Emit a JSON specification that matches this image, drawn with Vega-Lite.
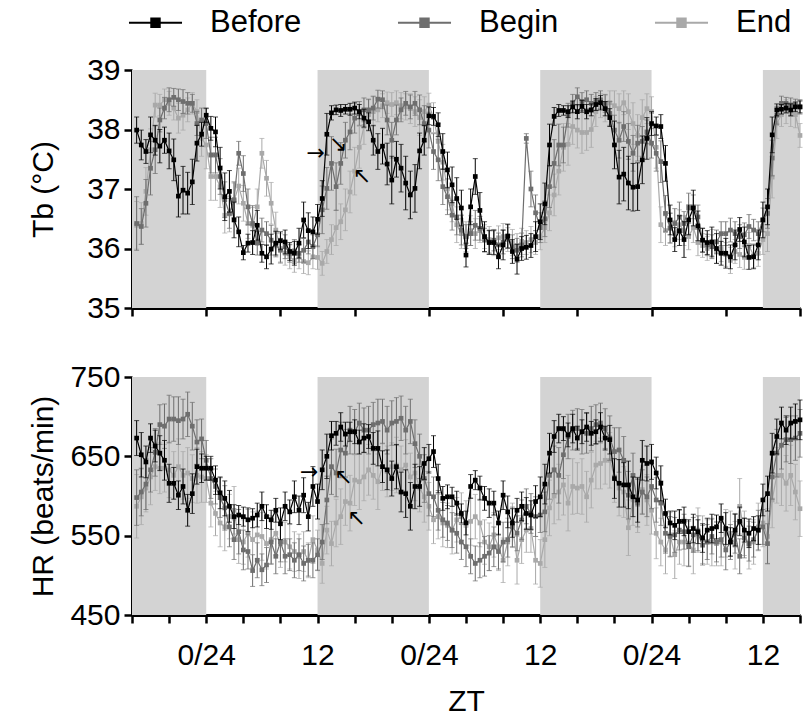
{
"$schema":"https://vega.github.io/schema/vega-lite/v6.json",
"padding":{"left":27,"top":7,"right":5,"bottom":5},
"background":"white",
"config":{"view":{"stroke":null},"font":"Liberation Sans",
"axis":{"domainColor":"#000","domainWidth":3,"tickColor":"#000","tickWidth":2.5,"tickSize":8,"labelFontSize":30,"labelColor":"#000","titleFontSize":30,"titleFontWeight":"normal","titleColor":"#000","grid":false,"labelPadding":4,"labelOverlap":false}},
"datasets":{
"sh":[{"a":16,"b":24},{"a":36,"b":48},{"a":60,"b":72},{"a":84,"b":88}],
"a1":[{"t":35.8,"v":37.6,"s":"→"},{"t":38.2,"v":37.76,"s":"↘"},{"t":40.8,"v":37.22,"s":"↖"}],
"a2":[{"t":35.1,"v":630,"s":"→"},{"t":38.8,"v":624,"s":"↖"},{"t":40.2,"v":572,"s":"↖"}],
"d":[
{"t":16.5,"a":37.99,"b":36.42,"c":36.39,"p":0.22,"q":0.45,"r":0.4,"h":673,"i":598,"j":587,"u":22,"v":35,"w":40},
{"t":17,"a":37.74,"b":36.37,"c":36.42,"p":0.25,"q":0.3,"r":0.35,"h":652,"i":605,"j":599,"u":28,"v":30,"w":35},
{"t":17.5,"a":37.63,"b":36.76,"c":36.96,"p":0.2,"q":0.4,"r":0.4,"h":643,"i":615,"j":610,"u":20,"v":32,"w":30},
{"t":18,"a":37.91,"b":37.35,"c":37.66,"p":0.3,"q":0.45,"r":0.35,"h":673,"i":633,"j":624,"u":18,"v":28,"w":35},
{"t":18.5,"a":37.82,"b":37.66,"c":38.41,"p":0.25,"q":0.4,"r":0.2,"h":663,"i":655,"j":637,"u":20,"v":30,"w":30},
{"t":19,"a":37.72,"b":38.16,"c":38.41,"p":0.28,"q":0.2,"r":0.18,"h":654,"i":690,"j":635,"u":22,"v":25,"w":32},
{"t":19.5,"a":37.82,"b":38.36,"c":38.5,"p":0.22,"q":0.18,"r":0.18,"h":645,"i":688,"j":635,"u":25,"v":28,"w":30},
{"t":20,"a":37.64,"b":38.5,"c":38.44,"p":0.3,"q":0.2,"r":0.2,"h":616,"i":697,"j":633,"u":24,"v":30,"w":35},
{"t":20.5,"a":37.49,"b":38.54,"c":38.36,"p":0.35,"q":0.15,"r":0.2,"h":616,"i":697,"j":626,"u":20,"v":28,"w":30},
{"t":21,"a":36.88,"b":38.5,"c":38.19,"p":0.35,"q":0.18,"r":0.25,"h":601,"i":695,"j":637,"u":18,"v":30,"w":35},
{"t":21.5,"a":36.98,"b":38.47,"c":38.24,"p":0.4,"q":0.2,"r":0.25,"h":612,"i":697,"j":626,"u":22,"v":25,"w":30},
{"t":22,"a":36.93,"b":38.44,"c":38.33,"p":0.35,"q":0.18,"r":0.2,"h":582,"i":703,"j":629,"u":20,"v":28,"w":32},
{"t":22.5,"a":37.12,"b":38.44,"c":38.44,"p":0.38,"q":0.15,"r":0.18,"h":603,"i":688,"j":622,"u":25,"v":30,"w":30},
{"t":23,"a":37.77,"b":38.1,"c":38.3,"p":0.3,"q":0.2,"r":0.2,"h":637,"i":668,"j":626,"u":22,"v":28,"w":35},
{"t":23.5,"a":37.92,"b":38.16,"c":37.85,"p":0.2,"q":0.2,"r":0.3,"h":635,"i":672,"j":624,"u":18,"v":25,"w":32},
{"t":24,"a":38.24,"b":38.1,"c":37.74,"p":0.12,"q":0.25,"r":0.4,"h":635,"i":645,"j":622,"u":15,"v":25,"w":30},
{"t":24.5,"a":38.02,"b":37.57,"c":37.21,"p":0.2,"q":0.3,"r":0.4,"h":635,"i":622,"j":591,"u":15,"v":25,"w":30},
{"t":25,"a":37.96,"b":37.57,"c":37.21,"p":0.25,"q":0.3,"r":0.4,"h":620,"i":612,"j":578,"u":18,"v":22,"w":28},
{"t":25.5,"a":37.35,"b":37.21,"c":37.04,"p":0.35,"q":0.3,"r":0.35,"h":604,"i":598,"j":566,"u":20,"v":25,"w":30},
{"t":26,"a":36.87,"b":36.82,"c":36.56,"p":0.4,"q":0.3,"r":0.3,"h":597,"i":585,"j":561,"u":22,"v":28,"w":30},
{"t":26.5,"a":36.96,"b":36.59,"c":36.58,"p":0.35,"q":0.25,"r":0.3,"h":587,"i":561,"j":574,"u":20,"v":25,"w":28},
{"t":27,"a":36.48,"b":36.82,"c":36.8,"p":0.3,"q":0.3,"r":0.3,"h":574,"i":545,"j":582,"u":15,"v":25,"w":30},
{"t":27.5,"a":36.28,"b":37.6,"c":37.05,"p":0.25,"q":0.2,"r":0.3,"h":576,"i":555,"j":545,"u":12,"v":28,"w":30},
{"t":28,"a":35.93,"b":37.26,"c":36.76,"p":0.12,"q":0.3,"r":0.3,"h":574,"i":532,"j":542,"u":12,"v":25,"w":28},
{"t":28.5,"a":36.09,"b":36.7,"c":36.42,"p":0.15,"q":0.3,"r":0.25,"h":570,"i":530,"j":553,"u":15,"v":22,"w":30},
{"t":29,"a":36.1,"b":36.42,"c":36.39,"p":0.2,"q":0.3,"r":0.3,"h":572,"i":506,"j":545,"u":12,"v":20,"w":35},
{"t":29.5,"a":36.39,"b":36.09,"c":36.7,"p":0.25,"q":0.2,"r":0.3,"h":576,"i":519,"j":551,"u":15,"v":22,"w":30},
{"t":30,"a":35.92,"b":36.31,"c":37.6,"p":0.15,"q":0.2,"r":0.25,"h":587,"i":507,"j":549,"u":18,"v":20,"w":30},
{"t":30.5,"a":35.86,"b":36.25,"c":37.18,"p":0.2,"q":0.2,"r":0.3,"h":574,"i":513,"j":540,"u":15,"v":22,"w":32},
{"t":31,"a":35.99,"b":36.14,"c":36.76,"p":0.25,"q":0.25,"r":0.35,"h":570,"i":542,"j":545,"u":12,"v":28,"w":30},
{"t":31.5,"a":36.09,"b":36.06,"c":36.31,"p":0.2,"q":0.2,"r":0.3,"h":582,"i":524,"j":553,"u":15,"v":22,"w":28},
{"t":32,"a":36.13,"b":35.97,"c":36,"p":0.15,"q":0.2,"r":0.25,"h":565,"i":542,"j":540,"u":20,"v":25,"w":30},
{"t":32.5,"a":36.11,"b":36.03,"c":35.92,"p":0.2,"q":0.2,"r":0.2,"h":587,"i":524,"j":542,"u":18,"v":22,"w":25},
{"t":33,"a":35.95,"b":35.92,"c":35.86,"p":0.15,"q":0.15,"r":0.2,"h":580,"i":526,"j":536,"u":15,"v":20,"w":28},
{"t":33.5,"a":35.92,"b":35.95,"c":35.8,"p":0.2,"q":0.2,"r":0.2,"h":599,"i":519,"j":530,"u":20,"v":22,"w":25},
{"t":34,"a":36.09,"b":35.92,"c":35.86,"p":0.25,"q":0.15,"r":0.2,"h":582,"i":526,"j":524,"u":18,"v":20,"w":28},
{"t":34.5,"a":36.48,"b":35.97,"c":35.78,"p":0.3,"q":0.2,"r":0.2,"h":601,"i":515,"j":530,"u":22,"v":22,"w":25},
{"t":35,"a":36.3,"b":36.11,"c":35.76,"p":0.3,"q":0.2,"r":0.2,"h":574,"i":519,"j":519,"u":18,"v":20,"w":22},
{"t":35.5,"a":36.28,"b":36.03,"c":35.86,"p":0.25,"q":0.2,"r":0.2,"h":612,"i":519,"j":545,"u":25,"v":22,"w":30},
{"t":36,"a":36.49,"b":36.23,"c":35.85,"p":0.25,"q":0.2,"r":0.2,"h":593,"i":526,"j":532,"u":22,"v":20,"w":25},
{"t":36.5,"a":36.84,"b":36.65,"c":35.75,"p":0.3,"q":0.4,"r":0.2,"h":633,"i":542,"j":515,"u":25,"v":22,"w":25},
{"t":37,"a":37.92,"b":37.01,"c":35.95,"p":0.35,"q":0.35,"r":0.2,"h":650,"i":595,"j":557,"u":28,"v":30,"w":30},
{"t":37.5,"a":38.28,"b":37.43,"c":36.15,"p":0.12,"q":0.45,"r":0.25,"h":676,"i":637,"j":540,"u":18,"v":35,"w":28},
{"t":38,"a":38.33,"b":37.04,"c":36.35,"p":0.08,"q":0.4,"r":0.3,"h":679,"i":629,"j":566,"u":15,"v":30,"w":30},
{"t":38.5,"a":38.32,"b":37.43,"c":36.45,"p":0.1,"q":0.35,"r":0.3,"h":687,"i":658,"j":574,"u":18,"v":35,"w":35},
{"t":39,"a":38.34,"b":37.82,"c":36.65,"p":0.08,"q":0.3,"r":0.35,"h":678,"i":654,"j":593,"u":15,"v":30,"w":30},
{"t":39.5,"a":38.34,"b":37.96,"c":36.95,"p":0.1,"q":0.3,"r":0.35,"h":681,"i":683,"j":591,"u":12,"v":30,"w":35},
{"t":40,"a":38.36,"b":38.19,"c":37.3,"p":0.1,"q":0.25,"r":0.4,"h":681,"i":681,"j":620,"u":15,"v":28,"w":32},
{"t":40.5,"a":38.3,"b":38.27,"c":37.7,"p":0.12,"q":0.2,"r":0.35,"h":668,"i":692,"j":618,"u":15,"v":25,"w":35},
{"t":41,"a":38.19,"b":38.33,"c":38.05,"p":0.15,"q":0.2,"r":0.3,"h":673,"i":683,"j":624,"u":18,"v":28,"w":30},
{"t":41.5,"a":38.13,"b":38.33,"c":38.25,"p":0.15,"q":0.18,"r":0.25,"h":675,"i":683,"j":633,"u":15,"v":30,"w":32},
{"t":42,"a":37.82,"b":38.36,"c":38.3,"p":0.25,"q":0.2,"r":0.25,"h":660,"i":690,"j":626,"u":20,"v":28,"w":30},
{"t":42.5,"a":37.63,"b":38.51,"c":38.33,"p":0.3,"q":0.15,"r":0.2,"h":660,"i":692,"j":618,"u":22,"v":30,"w":35},
{"t":43,"a":37.72,"b":38.5,"c":38.4,"p":0.3,"q":0.15,"r":0.2,"h":637,"i":694,"j":637,"u":20,"v":28,"w":30},
{"t":43.5,"a":37.42,"b":38.16,"c":38.45,"p":0.35,"q":0.25,"r":0.18,"h":633,"i":683,"j":631,"u":25,"v":30,"w":32},
{"t":44,"a":37.15,"b":37.82,"c":38.42,"p":0.4,"q":0.3,"r":0.2,"h":622,"i":692,"j":637,"u":22,"v":28,"w":30},
{"t":44.5,"a":37.5,"b":38.16,"c":38.45,"p":0.3,"q":0.25,"r":0.2,"h":637,"i":694,"j":639,"u":28,"v":30,"w":35},
{"t":45,"a":37.35,"b":38.33,"c":38.4,"p":0.4,"q":0.2,"r":0.22,"h":605,"i":698,"j":633,"u":25,"v":28,"w":30},
{"t":45.5,"a":37.1,"b":38.44,"c":38.38,"p":0.45,"q":0.2,"r":0.22,"h":603,"i":683,"j":639,"u":30,"v":30,"w":32},
{"t":46,"a":36.9,"b":38.38,"c":38.35,"p":0.4,"q":0.2,"r":0.25,"h":587,"i":694,"j":624,"u":30,"v":28,"w":30},
{"t":46.5,"a":37.01,"b":38.44,"c":38.3,"p":0.4,"q":0.2,"r":0.25,"h":612,"i":666,"j":629,"u":28,"v":30,"w":35},
{"t":47,"a":37.64,"b":38.33,"c":38.2,"p":0.3,"q":0.25,"r":0.3,"h":612,"i":650,"j":610,"u":25,"v":28,"w":30},
{"t":47.5,"a":37.82,"b":38.1,"c":38.3,"p":0.25,"q":0.3,"r":0.25,"h":641,"i":622,"j":599,"u":20,"v":30,"w":32},
{"t":48,"a":38.23,"b":37.99,"c":38.41,"p":0.15,"q":0.3,"r":0.2,"h":647,"i":603,"j":587,"u":18,"v":28,"w":30},
{"t":48.5,"a":38.22,"b":37.63,"c":38.2,"p":0.15,"q":0.3,"r":0.25,"h":656,"i":599,"j":570,"u":20,"v":25,"w":30},
{"t":49,"a":38.08,"b":37.49,"c":37.8,"p":0.2,"q":0.35,"r":0.3,"h":622,"i":582,"j":574,"u":18,"v":25,"w":28},
{"t":49.5,"a":37.63,"b":37.04,"c":37.45,"p":0.3,"q":0.3,"r":0.3,"h":597,"i":570,"j":566,"u":15,"v":22,"w":30},
{"t":50,"a":37.32,"b":36.87,"c":37,"p":0.3,"q":0.3,"r":0.35,"h":599,"i":566,"j":563,"u":15,"v":22,"w":28},
{"t":50.5,"a":37.07,"b":36.56,"c":36.75,"p":0.3,"q":0.25,"r":0.3,"h":599,"i":557,"j":557,"u":12,"v":22,"w":30},
{"t":51,"a":36.84,"b":36.53,"c":36.4,"p":0.35,"q":0.3,"r":0.3,"h":591,"i":553,"j":570,"u":15,"v":25,"w":28},
{"t":51.5,"a":36.68,"b":36.31,"c":36.25,"p":0.3,"q":0.25,"r":0.25,"h":578,"i":542,"j":574,"u":12,"v":22,"w":30},
{"t":52,"a":35.89,"b":36.2,"c":36.2,"p":0.2,"q":0.2,"r":0.25,"h":566,"i":536,"j":566,"u":15,"v":25,"w":28},
{"t":52.5,"a":36.7,"b":36.25,"c":36.3,"p":0.3,"q":0.2,"r":0.25,"h":612,"i":524,"j":568,"u":15,"v":22,"w":30},
{"t":53,"a":37.21,"b":36.39,"c":36.25,"p":0.3,"q":0.25,"r":0.25,"h":620,"i":515,"j":574,"u":12,"v":22,"w":28},
{"t":53.5,"a":36.64,"b":36.34,"c":36.3,"p":0.3,"q":0.2,"r":0.2,"h":610,"i":519,"j":566,"u":15,"v":22,"w":30},
{"t":54,"a":36.2,"b":36.14,"c":36.2,"p":0.25,"q":0.2,"r":0.2,"h":597,"i":524,"j":542,"u":15,"v":25,"w":28},
{"t":54.5,"a":36.1,"b":36.11,"c":36.15,"p":0.2,"q":0.2,"r":0.22,"h":591,"i":528,"j":536,"u":18,"v":22,"w":30},
{"t":55,"a":36.1,"b":36.14,"c":36.1,"p":0.2,"q":0.18,"r":0.22,"h":591,"i":536,"j":551,"u":15,"v":25,"w":28},
{"t":55.5,"a":35.86,"b":36.06,"c":36.18,"p":0.2,"q":0.2,"r":0.2,"h":566,"i":530,"j":536,"u":15,"v":22,"w":30},
{"t":56,"a":36.06,"b":36.11,"c":36.2,"p":0.25,"q":0.2,"r":0.22,"h":601,"i":542,"j":519,"u":18,"v":25,"w":28},
{"t":56.5,"a":36.21,"b":36.2,"c":36.15,"p":0.2,"q":0.2,"r":0.2,"h":580,"i":545,"j":542,"u":20,"v":22,"w":30},
{"t":57,"a":35.95,"b":36.03,"c":36.1,"p":0.2,"q":0.2,"r":0.22,"h":566,"i":561,"j":563,"u":18,"v":25,"w":28},
{"t":57.5,"a":35.82,"b":35.97,"c":36.05,"p":0.25,"q":0.2,"r":0.2,"h":582,"i":553,"j":519,"u":15,"v":22,"w":30},
{"t":58,"a":36,"b":36.06,"c":36.12,"p":0.2,"q":0.2,"r":0.22,"h":587,"i":570,"j":545,"u":18,"v":25,"w":30},
{"t":58.5,"a":36.02,"b":37.85,"c":36.1,"p":0.2,"q":0.08,"r":0.2,"h":578,"i":587,"j":557,"u":20,"v":22,"w":28},
{"t":59,"a":36.05,"b":37,"c":36.15,"p":0.2,"q":0.3,"r":0.22,"h":576,"i":578,"j":559,"u":18,"v":25,"w":30},
{"t":59.5,"a":36.2,"b":36.6,"c":36.1,"p":0.25,"q":0.3,"r":0.2,"h":593,"i":574,"j":519,"u":20,"v":25,"w":30},
{"t":60,"a":36.45,"b":36.35,"c":36.2,"p":0.3,"q":0.25,"r":0.22,"h":599,"i":576,"j":515,"u":25,"v":22,"w":30},
{"t":60.5,"a":36.75,"b":36.5,"c":36.35,"p":0.35,"q":0.3,"r":0.25,"h":615,"i":580,"j":545,"u":25,"v":25,"w":35},
{"t":61,"a":37.74,"b":37.04,"c":36.6,"p":0.35,"q":0.35,"r":0.3,"h":654,"i":626,"j":585,"u":25,"v":30,"w":35},
{"t":61.5,"a":38.22,"b":37.43,"c":36.9,"p":0.15,"q":0.4,"r":0.35,"h":675,"i":633,"j":600,"u":20,"v":30,"w":35},
{"t":62,"a":38.32,"b":37.74,"c":37.3,"p":0.1,"q":0.35,"r":0.4,"h":685,"i":626,"j":605,"u":18,"v":35,"w":35},
{"t":62.5,"a":38.32,"b":37.74,"c":37.7,"p":0.08,"q":0.3,"r":0.4,"h":685,"i":652,"j":614,"u":15,"v":30,"w":38},
{"t":63,"a":38.3,"b":38.24,"c":37.75,"p":0.1,"q":0.2,"r":0.35,"h":677,"i":675,"j":591,"u":15,"v":28,"w":35},
{"t":63.5,"a":38.38,"b":38.44,"c":38.05,"p":0.1,"q":0.15,"r":0.3,"h":685,"i":683,"j":612,"u":18,"v":25,"w":35},
{"t":64,"a":38.3,"b":38.55,"c":37.99,"p":0.12,"q":0.15,"r":0.3,"h":673,"i":685,"j":610,"u":15,"v":25,"w":32},
{"t":64.5,"a":38.39,"b":38.47,"c":37.95,"p":0.1,"q":0.15,"r":0.35,"h":681,"i":681,"j":612,"u":15,"v":28,"w":35},
{"t":65,"a":38.3,"b":38.5,"c":37.95,"p":0.12,"q":0.15,"r":0.3,"h":687,"i":679,"j":599,"u":18,"v":25,"w":32},
{"t":65.5,"a":38.33,"b":38.44,"c":38,"p":0.1,"q":0.15,"r":0.3,"h":679,"i":685,"j":620,"u":15,"v":28,"w":35},
{"t":66,"a":38.42,"b":38.47,"c":38.3,"p":0.1,"q":0.15,"r":0.25,"h":681,"i":690,"j":639,"u":15,"v":25,"w":30},
{"t":66.5,"a":38.45,"b":38.5,"c":38.4,"p":0.12,"q":0.15,"r":0.2,"h":687,"i":692,"j":641,"u":18,"v":25,"w":32},
{"t":67,"a":38.35,"b":38.44,"c":38.35,"p":0.12,"q":0.15,"r":0.22,"h":673,"i":685,"j":645,"u":15,"v":25,"w":30},
{"t":67.5,"a":38.2,"b":38.27,"c":38.45,"p":0.15,"q":0.2,"r":0.2,"h":671,"i":673,"j":645,"u":18,"v":28,"w":35},
{"t":68,"a":37.74,"b":37.99,"c":38.4,"p":0.4,"q":0.25,"r":0.25,"h":622,"i":656,"j":624,"u":25,"v":30,"w":32},
{"t":68.5,"a":37.2,"b":37.82,"c":38.35,"p":0.45,"q":0.3,"r":0.25,"h":616,"i":658,"j":610,"u":30,"v":28,"w":35},
{"t":69,"a":37.25,"b":38.05,"c":38.45,"p":0.45,"q":0.25,"r":0.2,"h":614,"i":645,"j":605,"u":28,"v":30,"w":32},
{"t":69.5,"a":37.1,"b":37.8,"c":38.3,"p":0.45,"q":0.3,"r":0.3,"h":614,"i":601,"j":560,"u":30,"v":30,"w":35},
{"t":70,"a":37.03,"b":37.6,"c":38.1,"p":0.4,"q":0.3,"r":0.35,"h":599,"i":626,"j":595,"u":25,"v":28,"w":32},
{"t":70.5,"a":37.04,"b":37.77,"c":37.9,"p":0.4,"q":0.3,"r":0.35,"h":595,"i":591,"j":589,"u":28,"v":30,"w":35},
{"t":71,"a":37.49,"b":37.8,"c":38.2,"p":0.4,"q":0.25,"r":0.3,"h":645,"i":605,"j":608,"u":25,"v":28,"w":30},
{"t":71.5,"a":37.85,"b":37.96,"c":38.35,"p":0.35,"q":0.2,"r":0.25,"h":641,"i":599,"j":595,"u":22,"v":25,"w":32},
{"t":72,"a":38.1,"b":37.77,"c":38.3,"p":0.2,"q":0.25,"r":0.25,"h":643,"i":612,"j":582,"u":22,"v":28,"w":30},
{"t":72.5,"a":38.06,"b":37.6,"c":37.7,"p":0.15,"q":0.3,"r":0.35,"h":629,"i":595,"j":553,"u":20,"v":28,"w":32},
{"t":73,"a":38.05,"b":37.46,"c":36.4,"p":0.2,"q":0.35,"r":0.3,"h":616,"i":591,"j":542,"u":22,"v":28,"w":30},
{"t":73.5,"a":37.43,"b":36.59,"c":36.3,"p":0.3,"q":0.3,"r":0.25,"h":578,"i":553,"j":532,"u":18,"v":25,"w":30},
{"t":74,"a":36.48,"b":36.34,"c":36.35,"p":0.25,"q":0.25,"r":0.25,"h":566,"i":549,"j":551,"u":15,"v":25,"w":28},
{"t":74.5,"a":36.15,"b":36.42,"c":36.25,"p":0.2,"q":0.25,"r":0.22,"h":563,"i":551,"j":526,"u":18,"v":22,"w":30},
{"t":75,"a":36.3,"b":36.53,"c":36.4,"p":0.25,"q":0.25,"r":0.25,"h":568,"i":557,"j":542,"u":15,"v":25,"w":28},
{"t":75.5,"a":36.15,"b":36.42,"c":36.3,"p":0.3,"q":0.2,"r":0.25,"h":568,"i":555,"j":542,"u":18,"v":22,"w":30},
{"t":76,"a":36.48,"b":36.68,"c":36.2,"p":0.25,"q":0.25,"r":0.22,"h":555,"i":536,"j":540,"u":15,"v":25,"w":28},
{"t":76.5,"a":36.68,"b":36.7,"c":36.35,"p":0.3,"q":0.2,"r":0.25,"h":559,"i":551,"j":532,"u":18,"v":22,"w":30},
{"t":77,"a":36.38,"b":36.53,"c":36.1,"p":0.25,"q":0.2,"r":0.22,"h":555,"i":553,"j":557,"u":15,"v":22,"w":28},
{"t":77.5,"a":36.14,"b":36.14,"c":36.05,"p":0.2,"q":0.2,"r":0.2,"h":547,"i":538,"j":545,"u":18,"v":25,"w":30},
{"t":78,"a":36.1,"b":36.06,"c":36,"p":0.2,"q":0.18,"r":0.2,"h":557,"i":542,"j":542,"u":15,"v":22,"w":28},
{"t":78.5,"a":36.11,"b":36.03,"c":36.1,"p":0.25,"q":0.2,"r":0.22,"h":559,"i":549,"j":542,"u":18,"v":22,"w":30},
{"t":79,"a":36,"b":36.11,"c":35.95,"p":0.25,"q":0.2,"r":0.2,"h":561,"i":542,"j":540,"u":15,"v":25,"w":28},
{"t":79.5,"a":35.92,"b":36.25,"c":36,"p":0.2,"q":0.2,"r":0.22,"h":572,"i":545,"j":542,"u":18,"v":22,"w":30},
{"t":80,"a":35.92,"b":36.25,"c":35.9,"p":0.25,"q":0.2,"r":0.2,"h":559,"i":532,"j":553,"u":20,"v":25,"w":30},
{"t":80.5,"a":35.86,"b":36.31,"c":35.8,"p":0.2,"q":0.2,"r":0.22,"h":542,"i":542,"j":553,"u":18,"v":22,"w":28},
{"t":81,"a":36.06,"b":36.25,"c":35.95,"p":0.25,"q":0.2,"r":0.2,"h":557,"i":553,"j":538,"u":20,"v":25,"w":30},
{"t":81.5,"a":36.32,"b":36.2,"c":35.9,"p":0.2,"q":0.2,"r":0.22,"h":568,"i":524,"j":587,"u":18,"v":22,"w":35},
{"t":82,"a":36.11,"b":36.23,"c":35.85,"p":0.25,"q":0.2,"r":0.2,"h":557,"i":547,"j":553,"u":15,"v":25,"w":28},
{"t":82.5,"a":35.85,"b":36.37,"c":36.05,"p":0.2,"q":0.2,"r":0.22,"h":553,"i":540,"j":538,"u":18,"v":22,"w":30},
{"t":83,"a":35.86,"b":36.31,"c":35.88,"p":0.2,"q":0.18,"r":0.2,"h":559,"i":545,"j":542,"u":15,"v":22,"w":28},
{"t":83.5,"a":36.06,"b":36.25,"c":35.92,"p":0.25,"q":0.2,"r":0.22,"h":557,"i":557,"j":561,"u":18,"v":25,"w":30},
{"t":84,"a":36.48,"b":36.48,"c":36.15,"p":0.3,"q":0.2,"r":0.25,"h":595,"i":561,"j":566,"u":20,"v":22,"w":30},
{"t":84.5,"a":36.7,"b":36.59,"c":36.25,"p":0.3,"q":0.25,"r":0.3,"h":603,"i":540,"j":549,"u":22,"v":25,"w":35},
{"t":85,"a":37.91,"b":37.52,"c":37.2,"p":0.3,"q":0.3,"r":0.35,"h":654,"i":624,"j":595,"u":25,"v":28,"w":35},
{"t":85.5,"a":38.33,"b":38.24,"c":38.1,"p":0.1,"q":0.15,"r":0.25,"h":675,"i":654,"j":626,"u":22,"v":30,"w":35},
{"t":86,"a":38.34,"b":38.44,"c":38.25,"p":0.08,"q":0.12,"r":0.2,"h":692,"i":664,"j":626,"u":20,"v":30,"w":38},
{"t":86.5,"a":38.36,"b":38.44,"c":38.3,"p":0.08,"q":0.1,"r":0.2,"h":683,"i":671,"j":616,"u":18,"v":28,"w":35},
{"t":87,"a":38.33,"b":38.41,"c":38.25,"p":0.1,"q":0.12,"r":0.2,"h":692,"i":671,"j":626,"u":20,"v":30,"w":38},
{"t":87.5,"a":38.38,"b":38.41,"c":38.25,"p":0.08,"q":0.1,"r":0.22,"h":694,"i":673,"j":605,"u":22,"v":28,"w":35},
{"t":88,"a":38.38,"b":38.38,"c":37.9,"p":0.1,"q":0.12,"r":0.2,"h":696,"i":679,"j":584,"u":25,"v":30,"w":35}
]},
"spacing":39,
"resolve":{"scale":{"color":"independent"},"legend":{"color":"independent"}},
"vconcat":[
{"width":668,"height":238,"data":{"name":"d"},
"layer":[
{"data":{"name":"sh"},"mark":{"type":"rect","color":"#d3d3d3"},
 "encoding":{"x":{"field":"a","type":"quantitative","title":"ZT","scale":{"domain":[16,88],"nice":false},"axis":{"values":[16,20,24,28,32,36,40,44,48,52,56,60,64,68,72,76,80,84,88],"labels":false,"title":null}},"x2":{"field":"b"}}},
{"mark":{"type":"errorbar","color":"#a9a9a9","thickness":1,"ticks":{"size":5}},
 "encoding":{"x":{"field":"t","type":"quantitative","title":"ZT"},"y":{"field":"c","type":"quantitative","title":"Tb (°C)","scale":{"domain":[35,39],"nice":false},"axis":{"values":[35,36,37,38,39],"format":"d","title":"Tb (°C)","titleX":-74}},"yError":{"field":"r"}}},
{"mark":{"type":"line","strokeWidth":1.2,"point":{"shape":"square","size":22,"filled":true}},
 "encoding":{"x":{"field":"t","type":"quantitative","title":"ZT"},"y":{"field":"c","type":"quantitative","title":"Tb (°C)"},"color":{"datum":"End","type":"nominal"}}},
{"mark":{"type":"errorbar","color":"#6e6e6e","thickness":1,"ticks":{"size":5}},
 "encoding":{"x":{"field":"t","type":"quantitative","title":"ZT"},"y":{"field":"b","type":"quantitative","title":"Tb (°C)"},"yError":{"field":"q"}}},
{"mark":{"type":"line","strokeWidth":1.2,"point":{"shape":"square","size":22,"filled":true}},
 "encoding":{"x":{"field":"t","type":"quantitative","title":"ZT"},"y":{"field":"b","type":"quantitative","title":"Tb (°C)"},"color":{"datum":"Begin","type":"nominal"}}},
{"mark":{"type":"errorbar","color":"#000000","thickness":1,"ticks":{"size":5}},
 "encoding":{"x":{"field":"t","type":"quantitative","title":"ZT"},"y":{"field":"a","type":"quantitative","title":"Tb (°C)"},"yError":{"field":"p"}}},
{"mark":{"type":"line","strokeWidth":1.2,"point":{"shape":"square","size":22,"filled":true}},
 "encoding":{"x":{"field":"t","type":"quantitative","title":"ZT"},"y":{"field":"a","type":"quantitative","title":"Tb (°C)"},
 "color":{"datum":"Before","type":"nominal","scale":{"domain":["Before","Begin","End"],"range":["#000000","#6e6e6e","#a9a9a9"]},
  "legend":{"orient":"none","legendX":8,"legendY":-63,"direction":"horizontal","title":null,"symbolType":"M-4.08,0H4.08M-0.65,-0.65H0.65V0.65H-0.65ZM-0.33,-0.33H0.33V0.33H-0.33ZM0,-0.65V0.65","symbolSize":169,"symbolStrokeWidth":2,"labelFontSize":31,"labelColor":"#000","labelOffset":39,"columnPadding":91,"padding":0}}}},
{"data":{"name":"a1"},"mark":{"type":"text","fontSize":22,"font":"DejaVu Sans","color":"#000"},
 "encoding":{"x":{"field":"t","type":"quantitative","title":"ZT"},"y":{"field":"v","type":"quantitative","title":"Tb (°C)"},"text":{"field":"s"}}}
]},
{"width":668,"height":238,"data":{"name":"d"},
"resolve":{"axis":{"x":"independent"}},
"layer":[
{"data":{"name":"sh"},"mark":{"type":"rect","color":"#d3d3d3"},
 "encoding":{"x":{"field":"a","type":"quantitative","title":"ZT","scale":{"domain":[16,88],"nice":false},"axis":{"orient":"bottom","values":[16,20,24,28,32,36,40,44,48,52,56,60,64,68,72,76,80,84,88],"labels":false,"title":null}},"x2":{"field":"b"}}},
{"mark":{"type":"errorbar","color":"#a9a9a9","thickness":1,"ticks":{"size":5}},
 "encoding":{"x":{"field":"t","type":"quantitative","title":"ZT","axis":{"orient":"bottom","values":[24,36,48,60,72,84],"labelExpr":"datum.value % 24 == 0 ? '0/24' : '12'","ticks":false,"tickSize":0,"domain":false,"labelPadding":25,"labelFlush":false,"labelOverlap":false,"title":"ZT","titlePadding":16}},"y":{"field":"j","type":"quantitative","title":"HR (beats/min)","scale":{"domain":[450,750],"nice":false},"axis":{"values":[450,500,550,600,650,700,750],"labelExpr":"datum.value % 100 == 50 ? datum.label : ''","title":"HR (beats/min)","titleX":-74}},"yError":{"field":"w"}}},
{"mark":{"type":"line","strokeWidth":1.2,"color":"#a9a9a9","point":{"shape":"square","size":22,"filled":true,"color":"#a9a9a9"}},
 "encoding":{"x":{"field":"t","type":"quantitative","axis":null},"y":{"field":"j","type":"quantitative","title":"HR (beats/min)"}}},
{"mark":{"type":"errorbar","color":"#6e6e6e","thickness":1,"ticks":{"size":5}},
 "encoding":{"x":{"field":"t","type":"quantitative","axis":null},"y":{"field":"i","type":"quantitative","title":"HR (beats/min)"},"yError":{"field":"v"}}},
{"mark":{"type":"line","strokeWidth":1.2,"color":"#6e6e6e","point":{"shape":"square","size":22,"filled":true,"color":"#6e6e6e"}},
 "encoding":{"x":{"field":"t","type":"quantitative","axis":null},"y":{"field":"i","type":"quantitative","title":"HR (beats/min)"}}},
{"mark":{"type":"errorbar","color":"#000000","thickness":1,"ticks":{"size":5}},
 "encoding":{"x":{"field":"t","type":"quantitative","axis":null},"y":{"field":"h","type":"quantitative","title":"HR (beats/min)"},"yError":{"field":"u"}}},
{"mark":{"type":"line","strokeWidth":1.2,"color":"#000000","point":{"shape":"square","size":22,"filled":true,"color":"#000000"}},
 "encoding":{"x":{"field":"t","type":"quantitative","axis":null},"y":{"field":"h","type":"quantitative","title":"HR (beats/min)"}}},
{"data":{"name":"a2"},"mark":{"type":"text","fontSize":22,"font":"DejaVu Sans","color":"#000"},
 "encoding":{"x":{"field":"t","type":"quantitative","axis":null},"y":{"field":"v","type":"quantitative","title":"HR (beats/min)"},"text":{"field":"s"}}}
]}
]
}
